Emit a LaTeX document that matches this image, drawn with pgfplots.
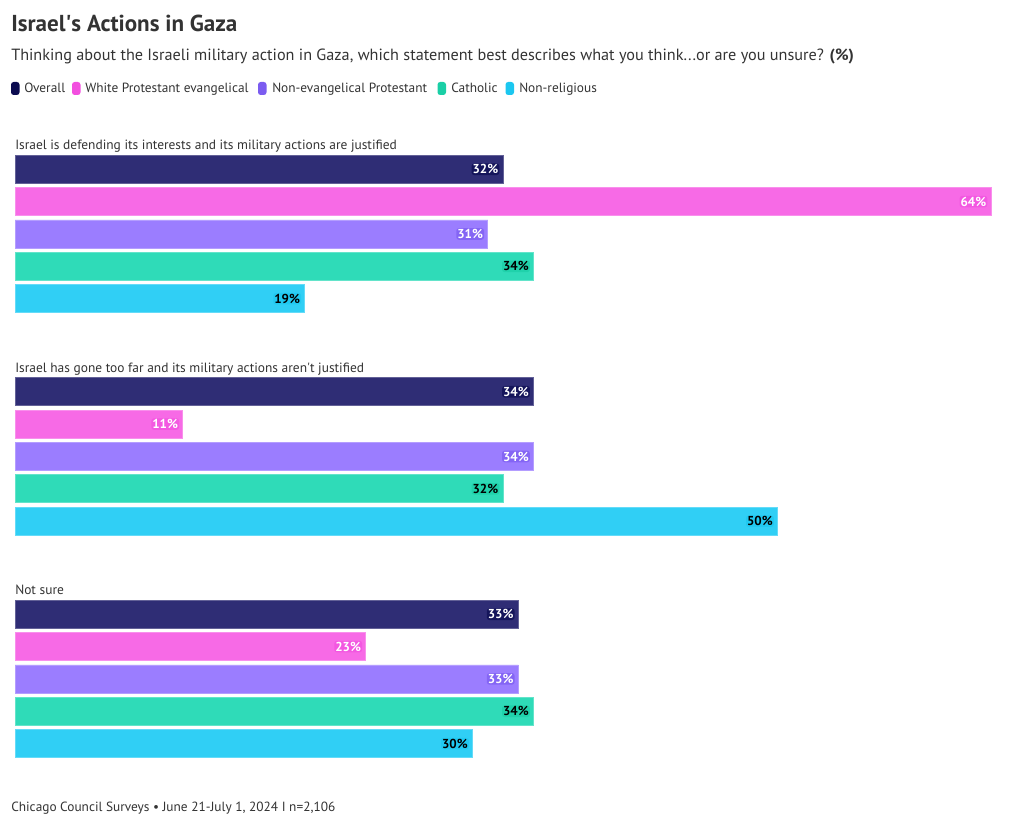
\documentclass[border=0pt]{standalone}
\usepackage{fontspec}
\setmainfont{PT Sans}
\usepackage{pgfplots}
\pgfplotsset{compat=1.18}
\definecolor{ctext}{HTML}{333333}
\definecolor{cO}{HTML}{2F2D75}
\definecolor{cOd}{HTML}{0B0B50}
\definecolor{cP}{HTML}{F76AE6}
\definecolor{cPd}{HTML}{F24FDF}
\definecolor{cU}{HTML}{9B7DFF}
\definecolor{cUd}{HTML}{7B5CF0}
\definecolor{cG}{HTML}{2FDBB8}
\definecolor{cGd}{HTML}{1ACFA6}
\definecolor{cC}{HTML}{30CFF5}
\definecolor{cCd}{HTML}{1BC7F0}
\begin{document}
\begin{tikzpicture}
\useasboundingbox (0,0) rectangle (765pt,620.25pt);
\begin{axis}[
  at={(0,0)}, anchor=south west,
  width=765pt, height=620.25pt, scale only axis,
  xmin=-0.98361, xmax=65.9016, ymin=0, ymax=827, y dir=reverse,
  axis lines=none, clip=false,
  xbar, bar width=28, bar shift=0pt,
  nodes near coords={\pgfmathprintnumber[assume math mode=true]{\pgfplotspointmeta}\%},
  nodes near coords style={anchor=east, xshift=-2.5pt, inner sep=0.8pt,
    rounded corners=2pt, fill opacity=0.7, text opacity=1,
    font=\bfseries\fontsize{9.75}{10}\selectfont},
]
\addplot[fill=cO, draw=cO!75!white, line width=0.5pt,
  every node near coord/.append style={text=white, fill=cOd}]
  coordinates {(32,169.3) (34,391.75) (33,614.2)};
\addplot[fill=cP, draw=cP!75!white, line width=0.5pt,
  every node near coord/.append style={text=white, fill=cPd}]
  coordinates {(64,201.65) (11,424.1) (23,646.55)};
\addplot[fill=cU, draw=cU!75!white, line width=0.5pt,
  every node near coord/.append style={text=white, fill=cUd}]
  coordinates {(31,234.0) (34,456.45) (33,678.9)};
\addplot[fill=cG, draw=cG!75!white, line width=0.5pt,
  every node near coord/.append style={text=black, fill=cGd}]
  coordinates {(34,266.35) (32,488.8) (34,711.25)};
\addplot[fill=cC, draw=cC!75!white, line width=0.5pt,
  every node near coord/.append style={text=black, fill=cCd}]
  coordinates {(19,298.7) (50,521.15) (30,743.6)};
\end{axis}
\begin{scope}[x=0.75pt, y=-0.75pt, yshift=620.25pt, every node/.style={inner sep=0pt, text=ctext}]
\node[anchor=base west, font=\bfseries\fontsize{17.3}{20}\selectfont] at (11,32) {Israel\textquotesingle s Actions in Gaza};
\node[anchor=base west, font=\fontsize{12.17}{14}\selectfont] at (11,61) {Thinking about the Israeli military action in Gaza, which statement best describes what you think...or are you unsure? \textbf{(\%)}};
\fill[cOd, rounded corners=2pt] (11,82) rectangle (19.5,95);
\node[anchor=base west, font=\fontsize{10}{12}\selectfont] at (24,93) {Overall};
\fill[cPd, rounded corners=2pt] (72,82) rectangle (80.5,95);
\node[anchor=base west, font=\fontsize{10}{12}\selectfont] at (85,93) {White Protestant evangelical};
\fill[cUd, rounded corners=2pt] (258,82) rectangle (266.5,95);
\node[anchor=base west, font=\fontsize{10}{12}\selectfont] at (272,93) {Non-evangelical Protestant};
\fill[cGd, rounded corners=2pt] (437.5,82) rectangle (446,95);
\node[anchor=base west, font=\fontsize{10}{12}\selectfont] at (451,93) {Catholic};
\fill[cCd, rounded corners=2pt] (505.5,82) rectangle (514,95);
\node[anchor=base west, font=\fontsize{10}{12}\selectfont] at (519,93) {Non-religious};
\node[anchor=base west, font=\fontsize{10.07}{12}\selectfont] at (15,150) {Israel is defending its interests and its military actions are justified};
\node[anchor=base west, font=\fontsize{10.07}{12}\selectfont] at (15,372.5) {Israel has gone too far and its military actions aren\textquotesingle t justified};
\node[anchor=base west, font=\fontsize{10.07}{12}\selectfont] at (15,595) {Not sure};
\node[anchor=base west, font=\fontsize{10}{12}\selectfont] at (11,812) {Chicago Council Surveys • June 21-July 1, 2024 I n=2,106};
\end{scope}
\end{tikzpicture}
\end{document}
